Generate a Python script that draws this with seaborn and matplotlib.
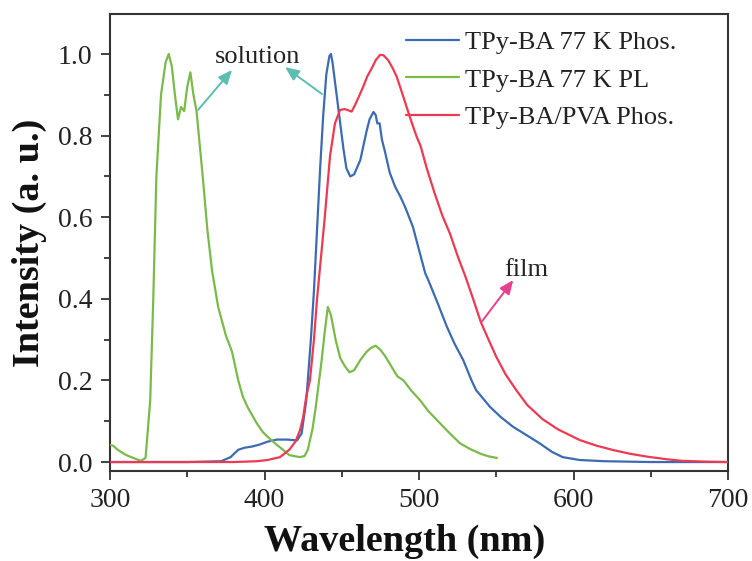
import matplotlib
matplotlib.use("Agg")
import matplotlib.pyplot as plt
from matplotlib.ticker import MultipleLocator, AutoMinorLocator, FormatStrFormatter
import seaborn as sns
import pandas as pd

# TPy-BA 77 K phosphorescence (solution)
phos_wl = [300, 350, 372, 378, 383, 387, 392, 397, 402, 408, 415, 421, 424, 427,
           430, 432, 434, 436, 438, 440, 442, 443, 444, 446, 448, 451, 453, 455.5,
           458, 462, 466, 468, 470.5, 472, 473, 474.5, 476, 478, 481, 484.5, 488,
           491, 496, 500, 504, 506, 512, 518, 523, 528.6, 534, 537, 546, 553, 561,
           570, 578, 586, 593, 604, 620, 650, 700]
phos_int = [0.0, 0.0, 0.002, 0.012, 0.03, 0.035, 0.038, 0.043, 0.05, 0.055, 0.055,
            0.053, 0.07, 0.15, 0.30, 0.42, 0.57, 0.72, 0.85, 0.95, 0.995, 1.0, 0.98,
            0.92, 0.86, 0.77, 0.72, 0.70, 0.705, 0.74, 0.81, 0.84, 0.858, 0.85, 0.83,
            0.83, 0.79, 0.76, 0.71, 0.675, 0.65, 0.625, 0.577, 0.52, 0.463, 0.446,
            0.39, 0.332, 0.29, 0.25, 0.20, 0.176, 0.135, 0.11, 0.086, 0.065, 0.046,
            0.025, 0.012, 0.005, 0.002, 0.0, 0.0]

# TPy-BA 77 K photoluminescence (solution)
pl_wl = [300, 302, 305, 310, 315, 320, 323, 326, 328, 330, 333, 336, 338, 340, 342,
         344, 346, 348, 350, 352, 354, 356, 358, 360, 363, 366, 370, 375, 379, 383,
         386, 389, 395, 399, 404, 408, 412, 416, 420, 423, 426, 428, 431, 433, 435,
         437, 439, 441, 443, 446, 449, 452, 455, 458, 462, 466, 469, 472, 475, 478,
         482, 486, 490, 495, 500.6, 506, 513.6, 520, 526.5, 533, 540, 545, 550.5]
pl_int = [0.042, 0.04, 0.03, 0.018, 0.01, 0.003, 0.01, 0.15, 0.40, 0.70, 0.90,
          0.98, 1.0, 0.97, 0.90, 0.84, 0.87, 0.86, 0.92, 0.955, 0.90, 0.86, 0.78,
          0.70, 0.57, 0.47, 0.38, 0.31, 0.27, 0.20, 0.16, 0.135, 0.095, 0.073,
          0.055, 0.042, 0.03, 0.017, 0.014, 0.012, 0.015, 0.03, 0.08, 0.13, 0.19,
          0.25, 0.32, 0.38, 0.36, 0.30, 0.255, 0.235, 0.22, 0.225, 0.25, 0.27, 0.28,
          0.285, 0.275, 0.26, 0.235, 0.21, 0.20, 0.175, 0.152, 0.125, 0.095, 0.07,
          0.046, 0.032, 0.02, 0.014, 0.01]

# TPy-BA/PVA film phosphorescence
film_wl = [300, 350, 380, 395, 402, 410, 416, 420, 423, 425, 427, 429.4, 432, 434,
           436, 439, 442.4, 445.6, 448.9, 452, 456.4, 458.6, 461, 463.9, 466.5,
           469.4, 472, 474.8, 477, 480, 483, 485.6, 489, 492, 495, 498.5, 501, 505,
           510, 515, 520, 525, 530, 535, 540, 545, 550, 556, 563, 570, 580, 590,
           604, 615, 626, 637, 648, 660, 670, 685, 700]
film_int = [0.0, 0.0, 0.0, 0.002, 0.005, 0.012, 0.03, 0.05, 0.078, 0.11, 0.16,
            0.20, 0.30, 0.40, 0.48, 0.60, 0.75, 0.83, 0.863, 0.865, 0.859, 0.875,
            0.895, 0.92, 0.945, 0.965, 0.985, 0.998, 0.997, 0.985, 0.965, 0.944,
            0.905, 0.87, 0.835, 0.797, 0.775, 0.72, 0.66, 0.605, 0.56, 0.505,
            0.455, 0.40, 0.343, 0.30, 0.258, 0.215, 0.176, 0.14, 0.105, 0.08, 0.054,
            0.04, 0.029, 0.02, 0.013, 0.007, 0.003, 0.001, 0.0]

series_names = ["TPy-BA 77 K Phos.", "TPy-BA 77 K PL", "TPy-BA/PVA Phos."]
series_colors = ["#3d6bb3", "#7aba4a", "#ec3a52"]

sns.set_theme(style="ticks")
plt.rcParams["font.family"] = ["Liberation Serif", "DejaVu Serif"]

fig = plt.figure(figsize=(7.52, 5.61), dpi=100)
ax = fig.add_axes([0.1463, 0.1604, 0.8218, 0.8146])

frames = [
    pd.DataFrame({"wl": phos_wl, "I": phos_int, "s": series_names[0]}),
    pd.DataFrame({"wl": pl_wl, "I": pl_int, "s": series_names[1]}),
    pd.DataFrame({"wl": film_wl, "I": film_int, "s": series_names[2]}),
]
# green underneath, then blue, then red on top
for idx in [1, 0, 2]:
    sns.lineplot(data=frames[idx], x="wl", y="I", color=series_colors[idx],
                 lw=1.6, estimator=None, sort=False, ax=ax,
                 label=series_names[idx], zorder=3 + idx)

ax.set_xlim(300, 700)
ax.set_ylim(-0.022, 1.098)
ax.xaxis.set_major_locator(MultipleLocator(100))
ax.xaxis.set_minor_locator(AutoMinorLocator(2))
ax.yaxis.set_major_locator(MultipleLocator(0.2))
ax.yaxis.set_minor_locator(AutoMinorLocator(2))
ax.yaxis.set_major_formatter(FormatStrFormatter("%.1f"))

spine_col = "#333333"
for sp in ax.spines.values():
    sp.set_visible(True)
    sp.set_linewidth(1.5)
    sp.set_color(spine_col)
ax.tick_params(which="both", direction="out", color=spine_col, width=1.3,
               top=False, right=False, labelsize=20, labelcolor="#222222")
ax.tick_params(which="major", length=6.5, pad=6)
ax.tick_params(which="minor", length=4)

ax.set_xlabel("Wavelength (nm)", fontsize=27.5, fontweight="bold",
              color="#111111")
ax.set_ylabel("Intensity (a. u.)", fontsize=27.5, fontweight="bold",
              color="#111111", labelpad=8)
ax.xaxis.set_label_coords(0.477, -0.116)

handles, labels = ax.get_legend_handles_labels()
order = [labels.index(n) for n in series_names]
leg = ax.legend([handles[i] for i in order], [labels[i] for i in order],
                loc="upper left", bbox_to_anchor=(0.479, 0.964),
                frameon=False, fontsize=19, handlelength=2.0,
                handletextpad=0.25, labelspacing=0.54, borderpad=0,
                borderaxespad=0)
for t in leg.get_texts():
    t.set_color("#222222")

teal = "#5dbdb1"
pink = "#e8408c"
arrow_kw = dict(arrowstyle="-|>,head_length=0.7,head_width=0.3", lw=1.4,
                shrinkA=0, shrinkB=0)
ax.annotate("", xy=(379.0, 0.961), xytext=(357.0, 0.863),
            arrowprops=dict(color=teal, **arrow_kw), zorder=6)
ax.annotate("", xy=(413.3, 0.968), xytext=(437.2, 0.902),
            arrowprops=dict(color=teal, **arrow_kw), zorder=6)
ax.text(395.8, 0.978, "solution", fontsize=19, ha="center", va="baseline",
        color="#222222", zorder=7)

ax.annotate("", xy=(561.0, 0.446), xytext=(540.6, 0.344),
            arrowprops=dict(color=pink, **arrow_kw), zorder=6)
ax.text(569.6, 0.456, "film", fontsize=19, ha="center", va="baseline",
        color="#222222", zorder=7)

fig.savefig("out.png", dpi=100)
